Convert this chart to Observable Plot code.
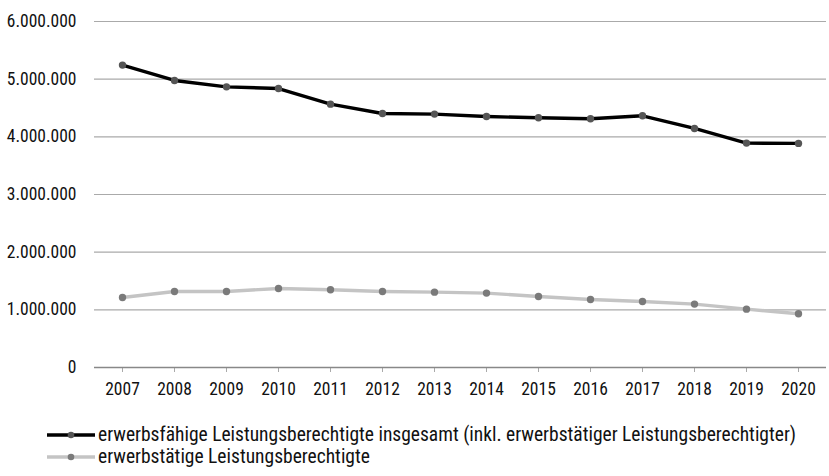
<!DOCTYPE html>
<html>
<head>
<meta charset="utf-8">
<script src="https://cdn.jsdelivr.net/npm/d3@7"></script>
<script src="https://cdn.jsdelivr.net/npm/@observablehq/plot@0.6"></script>
<style>
  html, body { margin: 0; padding: 0; background: #fff; }
  body { position: relative; width: 829px; height: 476px; overflow: hidden; font-family: "Roboto Condensed", "Liberation Sans Narrow", "DejaVu Sans Condensed", "Arial Narrow", sans-serif; }
  #legend { position: absolute; left: 0; top: 424px; font-size: 19.5px; line-height: 22px; color: #111; }
  .row { display: flex; align-items: center; height: 22px; white-space: nowrap; }
  .row svg { margin-left: 47px; margin-right: 3px; }
</style>
</head>
<body>
<div id="chart"></div>
<div id="legend"></div>
<script>
const years = ["2007","2008","2009","2010","2011","2012","2013","2014","2015","2016","2017","2018","2019","2020"];
const insgesamt = [5244000, 4977000, 4867000, 4838000, 4567000, 4404000, 4394000, 4353000, 4330000, 4313000, 4365000, 4145000, 3891000, 3886000];
const erwerbstaetig = [1214000, 1318000, 1318000, 1370000, 1347000, 1318000, 1307000, 1290000, 1231000, 1179000, 1145000, 1099000, 1012000, 931000];
const seriesNames = ["erwerbsfähige Leistungsberechtigte insgesamt (inkl. erwerbstätiger Leistungsberechtigter)", "erwerbstätige Leistungsberechtigte"];
const yTicks = [0, 1000000, 2000000, 3000000, 4000000, 5000000, 6000000];

const fmt = d3.formatLocale({decimal: ",", thousands: ".", grouping: [3], currency: ["", " €"]}).format(",d");
const s1 = years.map((y, i) => ({year: y, value: insgesamt[i]}));
const s2 = years.map((y, i) => ({year: y, value: erwerbstaetig[i]}));
const font = '"Roboto Condensed", "Liberation Sans Narrow", "DejaVu Sans Condensed", "Arial Narrow", sans-serif';

const plot = Plot.plot({
  width: 829,
  height: 410,
  marginLeft: 94,
  marginRight: 3,
  marginTop: 21,
  marginBottom: 43,
  style: {fontFamily: font, fontSize: "17.5px", color: "#111", background: "#fff"},
  x: {type: "point", domain: years, padding: 0.5, label: null},
  y: {domain: [0, 6000000], label: null},
  marks: [
    Plot.ruleY(yTicks.filter(d => d > 0), {stroke: "#aaa", strokeWidth: 1.2}),
    Plot.axisY(yTicks, {tickSize: 0, tickPadding: 18, tickFormat: fmt, fontSize: 17.5, fill: "#111"}),
    Plot.axisX(years, {tickSize: 5, tickPadding: 10, stroke: "#aaa", fontSize: 17.5, fill: "#111"}),
    Plot.ruleY([0], {stroke: "#888", strokeWidth: 1.5}),
    Plot.line(s2, {x: "year", y: "value", stroke: "#c4c4c4", strokeWidth: 3.4}),
    Plot.dot(s2, {x: "year", y: "value", fill: "#7a7a7a", r: 3.7}),
    Plot.line(s1, {x: "year", y: "value", stroke: "#000", strokeWidth: 3.4}),
    Plot.dot(s1, {x: "year", y: "value", fill: "#555", r: 3.7})
  ]
});
document.getElementById("chart").appendChild(plot);

const legend = document.getElementById("legend");
const styles = [{line: "#000", dot: "#555"}, {line: "#c4c4c4", dot: "#7a7a7a"}];
seriesNames.forEach((name, i) => {
  const row = document.createElement("div");
  row.className = "row";
  row.innerHTML = `<svg width="48" height="10"><line x1="0" x2="48" y1="5" y2="5" stroke="${styles[i].line}" stroke-width="3.4"/><circle cx="24" cy="5" r="3.3" fill="${styles[i].dot}"/></svg><span>${name}</span>`;
  legend.appendChild(row);
});
</script>
</body>
</html>
